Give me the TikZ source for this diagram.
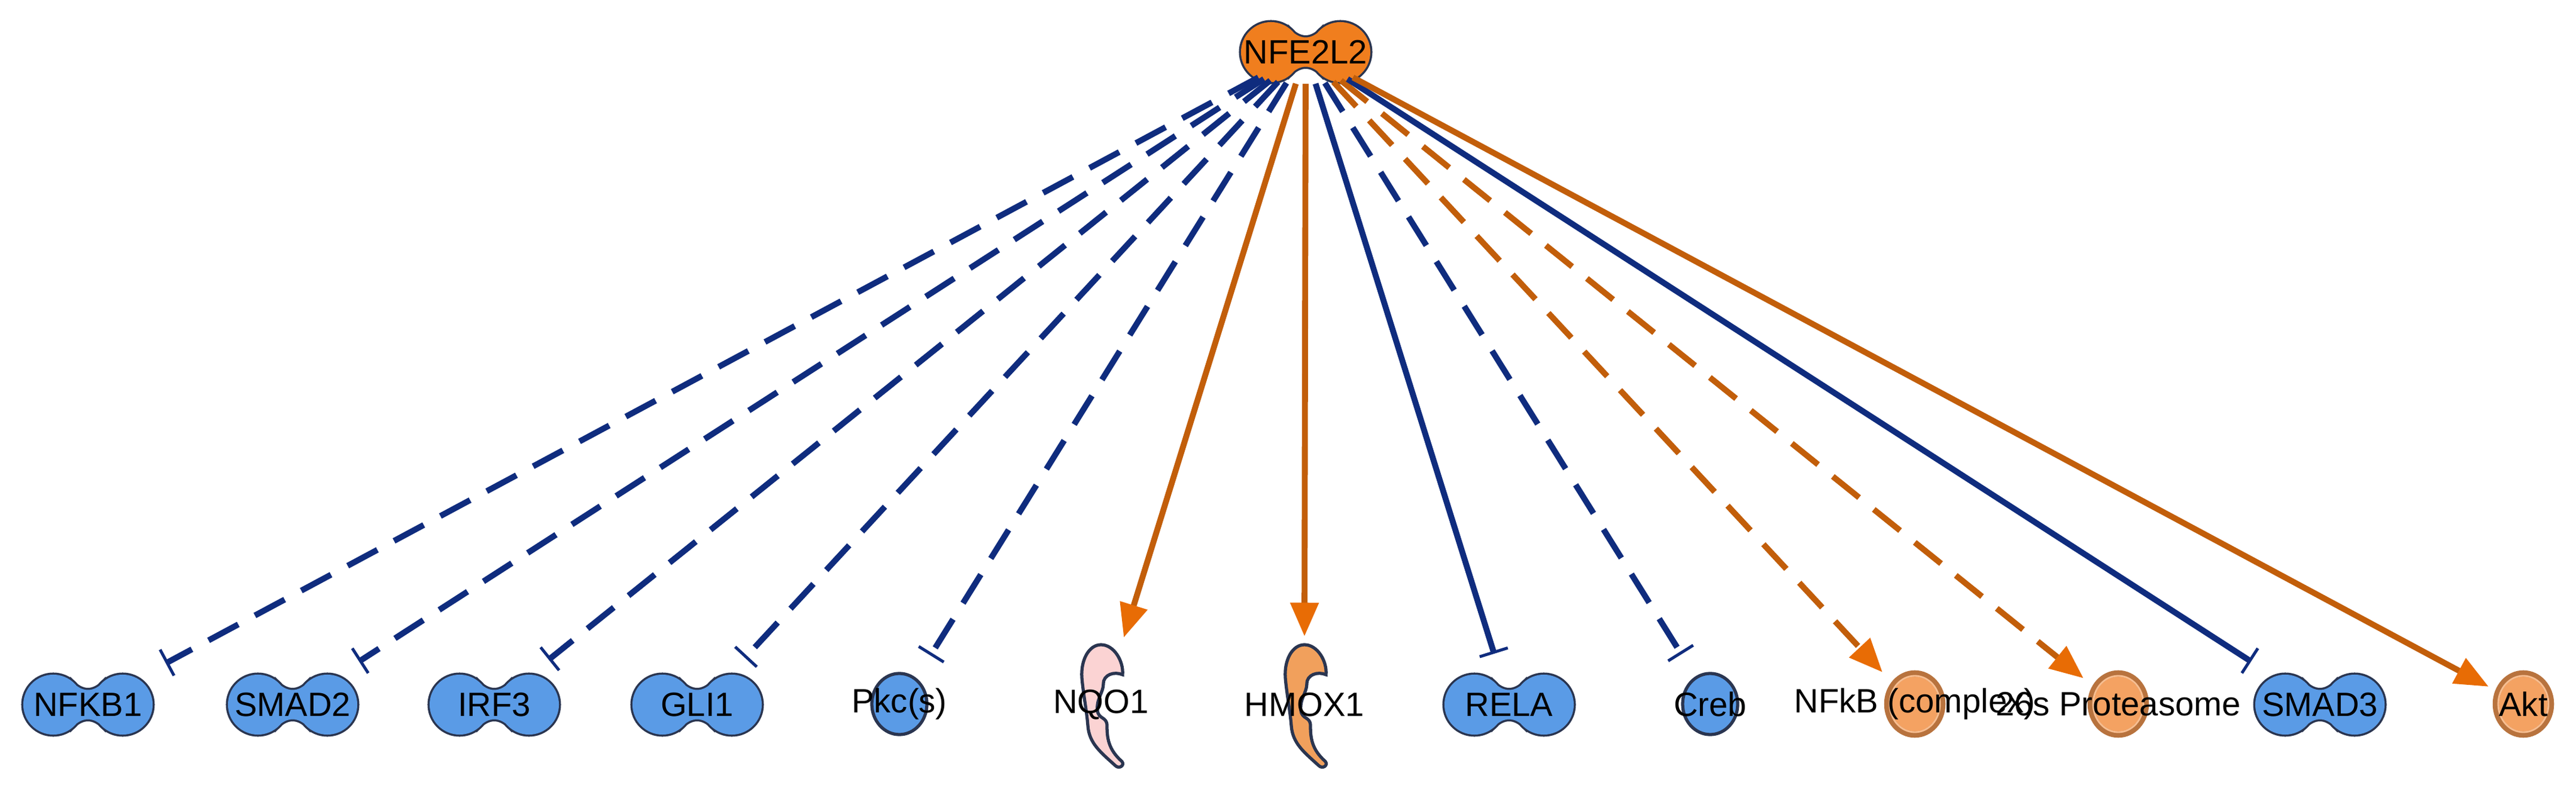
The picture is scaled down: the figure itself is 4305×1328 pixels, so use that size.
\documentclass[tikz,border=0pt]{standalone}
\usepackage{fontspec}
\setmainfont{Liberation Sans}
\usetikzlibrary{arrows.meta,shapes.geometric}
\definecolor{navy}{HTML}{0F2C7E}
\definecolor{brn}{HTML}{C25E0A}
\definecolor{tipor}{HTML}{E86C05}
\definecolor{nblue}{HTML}{5A9BE6}
\definecolor{ntop}{HTML}{F07E1E}
\definecolor{nlor}{HTML}{F4A262}
\definecolor{nring}{HTML}{B8733E}
\definecolor{npink}{HTML}{FBD3D3}
\definecolor{nhmox}{HTML}{F1A05C}
\definecolor{nline}{HTML}{2A3550}
\newcommand\lbl{\fontsize{16}{18}\selectfont}
\newcommand\dumbbell[5]{%
  \begin{scope}[shift={(#2,#3)}]
    \path[draw=nline,line width=2pt] (-58,0) circle (0.5cm) (58,0) circle (0.5cm)
      (-26,38) .. controls (-10,20) and (10,20) .. (26,38) -- (26,-38) .. controls (10,-20) and (-10,-20) .. (-26,-38) -- cycle;
    \path[fill=#4] (-58,0) circle (0.5cm) (58,0) circle (0.5cm)
      (-26,38) .. controls (-10,20) and (10,20) .. (26,38) -- (26,-38) .. controls (10,-20) and (-10,-20) .. (-26,-38) -- cycle;
  \end{scope}
  \node[txt] (#1) at (#2,#3) {#5};}
\newcommand\bluecirc[4]{%
  \path[draw=nline,line width=1.5pt,fill=nblue] (#2,#3) circle [x radius=0.46cm,y radius=0.51cm];
  \node[txt] (#1) at (#2,#3) {#4};}
\newcommand\orcirc[4]{%
  \path[draw=nring,line width=3pt,fill=nlor] (#2,#3) circle [x radius=0.46cm,y radius=0.51cm];
  \path[draw=nlor!70!white,line width=0.8pt] (#2,#3) circle [x radius=0.42cm,y radius=0.47cm];
  \node[txt] (#1) at (#2,#3) {#4};}
\newcommand\enzyme[5]{%
  \begin{scope}[shift={(#2,#3)}]
    \path[draw=nline,line width=1.5pt,fill=#4] (0,-100) .. controls (22,-100) and (38,-72) .. (36,-50)
      .. controls (22,-56) and (4,-50) .. (4,-35)
      .. controls (4,-20) and (-8,-10) .. (-6,10)
      .. controls (-4,25) and (10,20) .. (10,35)
      .. controls (10,55) and (12,75) .. (35,95)
      .. controls (40,102) and (30,108) .. (24,102)
      .. controls (0,80) and (-20,65) .. (-22,35)
      .. controls (-24,10) and (-30,-20) .. (-32,-45)
      .. controls (-34,-75) and (-20,-100) .. (0,-100) -- cycle;
  \end{scope}
  \node[txt] (#1) at (#2,#3) {#5};}
\tikzset{
  txt/.style={inner sep=0pt,font=\lbl,text=black},
  inh/.style={draw=navy,line width=2.8pt,-{Bar[width=14pt,line width=1.4pt]}},
  act/.style={draw=brn,line width=2.8pt,-{Triangle[length=16pt,width=13pt,fill=tipor,color=tipor]}},
  dsh/.style={dash pattern=on 16pt off 9pt},
}
\begin{document}
\begin{tikzpicture}[x=0.01cm,y=-0.01cm]
\useasboundingbox (0,0) rectangle (4305,1328);
\fill[white] (0,0) rectangle (4305,1328);
% top node
\dumbbell{nfe}{2182}{87}{ntop}{NFE2L2}
\node[ellipse,minimum width=2.6cm,minimum height=1.05cm,inner sep=0pt] (topc) at (2182,87) {};
% targets
\dumbbell{nfkb1}{147}{1177}{nblue}{NFKB1}
\dumbbell{smad2}{489}{1177}{nblue}{SMAD2}
\dumbbell{irf3}{826}{1177}{nblue}{IRF3}
\dumbbell{gli1}{1165}{1177}{nblue}{GLI1}
\bluecirc{pkc}{1503}{1176}{Pkc(s)}
\enzyme{nqo1}{1840}{1177}{npink}{NQO1}
\enzyme{hmox1}{2180}{1177}{nhmox}{HMOX1}
\dumbbell{rela}{2522}{1177}{nblue}{RELA}
\bluecirc{creb}{2858}{1176}{Creb}
\orcirc{nfkbc}{3200}{1176}{NFkB (complex)}
\orcirc{prot}{3540}{1176}{26s Proteasome}
\dumbbell{smad3}{3877}{1177}{nblue}{SMAD3}
\orcirc{akt}{4217}{1176}{Akt}
% end points
\coordinate (e1) at (277,1108);
\coordinate (e2) at (600,1105);
\coordinate (e3) at (917,1102);
\coordinate (e4) at (1245,1099);
\coordinate (e5) at (1555,1095);
\coordinate (e6) at (1878,1065);
\coordinate (e7) at (2180,1063);
\coordinate (e8) at (2497,1092);
\coordinate (e9) at (2810,1093);
\coordinate (e10) at (3146,1123);
\coordinate (e11) at (3482,1133);
\coordinate (e12) at (3762,1105);
\coordinate (e13) at (4159,1147);
% connectors
\draw[inh,dsh] (topc) -- (e1);
\draw[inh,dsh] (topc) -- (e2);
\draw[inh,dsh] (topc) -- (e3);
\draw[inh,dsh] (topc) -- (e4);
\draw[inh,dsh] (topc) -- (e5);
\draw[act] (topc) -- (e6);
\draw[act] (topc) -- (e7);
\draw[inh] (topc) -- (e8);
\draw[inh,dsh] (topc) -- (e9);
\draw[act,dsh] (topc) -- (e10);
\draw[act,dsh] (topc) -- (e11);
\draw[inh] (topc) -- (e12);
\draw[act] (topc) -- (e13);
\end{tikzpicture}
\end{document}
